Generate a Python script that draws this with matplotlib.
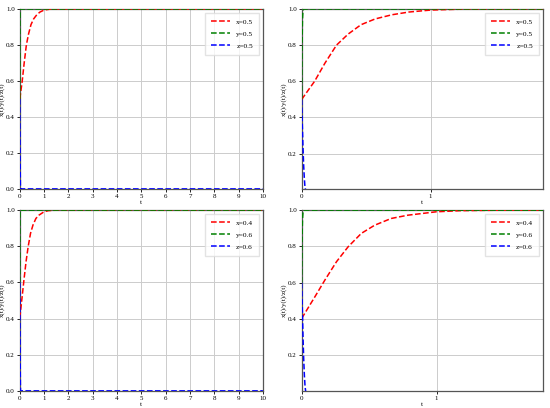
import matplotlib
matplotlib.use("Agg")
import matplotlib.pyplot as plt

plt.rcParams['font.family'] = ['Liberation Serif', 'DejaVu Serif']
plt.rcParams['font.size'] = 5

# time samples
t_x = [0, 0.1, 0.18, 0.27, 0.36, 0.46, 0.57, 0.7, 0.83, 1.0, 1.24, 1.6, 10]
# case 1: x0=0.5, y0=0.5, z0=0.5
x1 = [0.5, 0.6, 0.70, 0.80, 0.861, 0.913, 0.945, 0.968, 0.983, 0.994, 0.999, 1.0, 1.0]
# case 2: x0=0.4, y0=0.6, z0=0.6
t_x2 = [0, 0.098, 0.172, 0.258, 0.344, 0.442, 0.541, 0.663, 0.786, 1.0, 1.18, 1.5, 10]
x2 = [0.404, 0.523, 0.615, 0.716, 0.798, 0.872, 0.917, 0.954, 0.972, 0.991, 0.997, 1.0, 1.0]

t_y = [0, 0.003, 0.006, 0.01, 0.015, 10]
y1 = [0.5, 0.8, 0.94, 0.99, 1.0, 1.0]
y2 = [0.6, 0.85, 0.95, 0.99, 1.0, 1.0]

t_z = [0, 0.005, 0.01, 0.015, 0.02, 0.025, 0.03, 10]
z1 = [0.5, 0.36, 0.24, 0.14, 0.07, 0.02, 0.0, 0.0]
z2 = [0.6, 0.45, 0.30, 0.18, 0.09, 0.03, 0.0, 0.0]

cases = [
    (t_x, x1, y1, z1, ["x=0.5", "y=0.5", "z=0.5"], 1.87),
    (t_x2, x2, y2, z2, ["x=0.4", "y=0.6", "z=0.6"], 1.787),
]

fig = plt.figure(figsize=(5.5, 4.08), dpi=100)
rows = [(0.537, 0.441), (0.042, 0.443)]

for r, (tx, xs, ys, zs, labels, xmax) in enumerate(cases):
    bottom, height = rows[r]
    ax_full = fig.add_axes([0.036, bottom, 0.442, height])
    ax_zoom = fig.add_axes([0.5485, bottom, 0.4385, height])
    for ax in (ax_full, ax_zoom):
        ax.plot(tx, xs, 'r--', lw=1.1, label=labels[0], zorder=3)
        ax.plot(t_y, ys, 'g--', lw=1.1, label=labels[1], zorder=3)
        ax.plot(t_z, zs, 'b--', lw=1.1, label=labels[2], zorder=3)
        ax.grid(True, color='#cccccc', lw=0.7)
        ax.set_xlabel('t', labelpad=1)
        ax.set_ylabel('x(t)/y(t)/z(t)', labelpad=1)
        ax.tick_params(length=2, width=0.6, pad=1.5)
        for s in ax.spines.values():
            s.set_color('#555555')
            s.set_linewidth(0.9)
        ax.legend(loc='upper right', fontsize=5.3, handlelength=2.6,
                  borderpad=0.8, labelspacing=0.8, fancybox=False,
                  edgecolor='#dddddd')
    ax_full.set_xlim(0, 10)
    ax_full.set_ylim(0, 1)
    ax_full.set_xticks(range(11))
    ax_full.set_yticks([0, 0.2, 0.4, 0.6, 0.8, 1.0])
    ax_zoom.set_xlim(0, xmax)
    ax_zoom.set_ylim(0.005, 1)
    ax_zoom.set_xticks([0, 1])
    ax_zoom.set_yticks([0.2, 0.4, 0.6, 0.8, 1.0])

fig.savefig('out.png', dpi=100)
